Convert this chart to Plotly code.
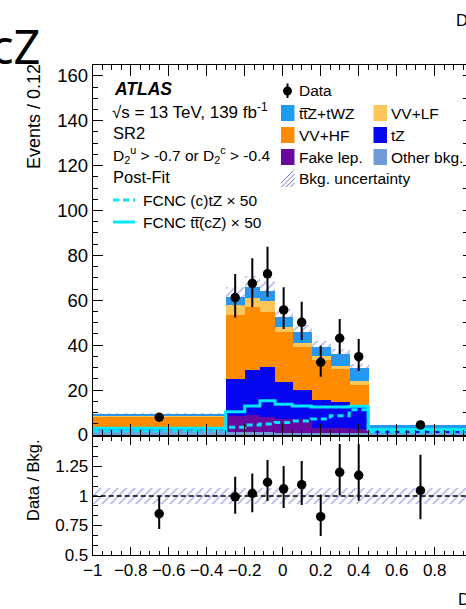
import plotly.graph_objects as go

W, H = 466, 609
FONT = "Liberation Sans, Arial, Helvetica, sans-serif"

# ---- histogram binning (D2 discriminant) ----
bin_edges = [-1.0, -0.3, -0.2, -0.12, -0.04, 0.05, 0.15, 0.25, 0.35, 0.45, 1.0]

# ---- post-fit background components (Events / 0.12), bottom -> top of stack ----
other_bkg = [2.3, 1.2, 1.2, 1.2, 1.1, 1.1, 1.1, 1.1, 1.1, 1.0]
fake_lep = [0.3, 7.4, 7.6, 6.8, 6.1, 5.9, 1.9, 1.8, 1.6, 0.2]
tz_bkg = [0.8, 16.3, 20.2, 22.4, 16.3, 13.0, 12.4, 11.7, 10.6, 0.5]
vv_hf = [4.9, 28.6, 27.9, 24.5, 22.5, 19.0, 18.0, 14.6, 8.9, 1.2]
vv_lf = [0.3, 4.4, 4.0, 4.8, 2.1, 2.0, 1.8, 1.7, 1.9, 0.3]
ttz_twz = [0.7, 3.7, 5.2, 4.6, 4.4, 4.8, 4.1, 5.0, 5.6, 1.1]

# relative background uncertainty per bin
bkg_rel_unc = [0.07, 0.07, 0.07, 0.07, 0.07, 0.07, 0.07, 0.07, 0.07, 0.07]

# ---- data ----
data_vals = [7.9, 61.2, 67.5, 71.8, 55.7, 50.2, 32.4, 43.1, 34.9, 4.5]
data_err_up = [1.4, 10.5, 11.2, 12.1, 10.1, 9.2, 7.4, 8.6, 7.9, 1.3]
data_err_dn = [1.2, 8.9, 10.5, 10.2, 8.5, 7.9, 6.4, 7.0, 6.4, 1.05]

# ---- FCNC signals scaled by 50 ----
sig_tt_cz = [3.0, 10.4, 12.9, 15.3, 13.7, 12.9, 12.5, 12.5, 12.8, 2.5]
sig_c_tz = [1.8, 3.4, 4.5, 4.9, 5.6, 6.2, 7.1, 8.6, 11.3, 1.5]

# ---- axis ticks ----
x_tick_vals = [-1, -0.8, -0.6, -0.4, -0.2, 0, 0.2, 0.4, 0.6, 0.8]
x_tick_text = ["\u22121", "\u22120.8", "\u22120.6", "\u22120.4", "\u22120.2",
               "0", "0.2", "0.4", "0.6", "0.8"]
y_tick_vals = [0, 20, 40, 60, 80, 100, 120, 140, 160]
r_tick_vals = [0.5, 0.75, 1, 1.25]
r_tick_text = ["0.5", "0.75", "1", "1.25"]

COL = {
    "ttz": "#1f9cf2",
    "vvlf": "#fec65a",
    "vvhf": "#ff8c00",
    "tz": "#0505f0",
    "fake": "#680aa0",
    "other": "#6f9bd6",
    "sig": "#00e8ff",
    "hatch": "#7070e0",
}

centers = [(a + b) / 2 for a, b in zip(bin_edges[:-1], bin_edges[1:])]
widths = [b - a for a, b in zip(bin_edges[:-1], bin_edges[1:])]
components = [other_bkg, fake_lep, tz_bkg, vv_hf, vv_lf, ttz_twz]
total = [sum(c[i] for c in components) for i in range(len(centers))]
ratio = [d / t for d, t in zip(data_vals, total)]
ratio_up = [e / t for e, t in zip(data_err_up, total)]
ratio_dn = [e / t for e, t in zip(data_err_dn, total)]


def px(x):
    return x / W


def py(y):
    return 1 - y / H


fig = go.Figure()

stack = [
    ("Other bkg.", other_bkg, COL["other"]),
    ("Fake lep.", fake_lep, COL["fake"]),
    ("tZ", tz_bkg, COL["tz"]),
    ("VV+HF", vv_hf, COL["vvhf"]),
    ("VV+LF", vv_lf, COL["vvlf"]),
    ("tt\u0305Z+tWZ", ttz_twz, COL["ttz"]),
]
for name, vals, col in stack:
    fig.add_trace(go.Bar(
        x=centers, y=vals, width=widths, name=name,
        marker=dict(color=col, line=dict(width=0)),
        xaxis="x", yaxis="y", showlegend=False,
    ))

hatch_marker = dict(
    color="rgba(0,0,0,0)", line=dict(width=0),
    pattern=dict(shape="/", fgcolor=COL["hatch"], bgcolor="rgba(0,0,0,0)",
                 size=6, solidity=0.3, fillmode="overlay"),
)

# background uncertainty band on the stack
fig.add_trace(go.Bar(
    x=centers, width=widths,
    base=[t * (1 - u) for t, u in zip(total, bkg_rel_unc)],
    y=[2 * t * u for t, u in zip(total, bkg_rel_unc)],
    marker=hatch_marker, xaxis="x", yaxis="y", showlegend=False,
))

# signal step lines
fig.add_trace(go.Scatter(
    x=bin_edges, y=sig_tt_cz + [sig_tt_cz[-1]], mode="lines",
    line=dict(color=COL["sig"], width=3, shape="hv"),
    xaxis="x", yaxis="y", showlegend=False,
))
fig.add_trace(go.Scatter(
    x=bin_edges, y=sig_c_tz + [sig_c_tz[-1]], mode="lines",
    line=dict(color=COL["sig"], width=3, shape="hv", dash="6px,4px"),
    xaxis="x", yaxis="y", showlegend=False,
))

# data
fig.add_trace(go.Scatter(
    x=centers, y=data_vals, mode="markers",
    marker=dict(color="black", size=9.5),
    error_y=dict(type="data", symmetric=False, array=data_err_up,
                 arrayminus=data_err_dn, color="black", thickness=2, width=0),
    xaxis="x", yaxis="y", showlegend=False,
))

# ---- ratio panel ----
fig.add_trace(go.Bar(
    x=centers, width=widths,
    base=[1 - u for u in bkg_rel_unc],
    y=[2 * u for u in bkg_rel_unc],
    marker=hatch_marker, xaxis="x2", yaxis="y2", showlegend=False,
))
fig.add_trace(go.Scatter(
    x=[bin_edges[0], bin_edges[-1]], y=[1, 1], mode="lines",
    line=dict(color="black", width=1.3, dash="5px,3px"),
    xaxis="x2", yaxis="y2", showlegend=False,
))
fig.add_trace(go.Scatter(
    x=centers, y=ratio, mode="markers",
    marker=dict(color="black", size=9.5),
    error_y=dict(type="data", symmetric=False, array=ratio_up,
                 arrayminus=ratio_dn, color="black", thickness=2, width=0),
    xaxis="x2", yaxis="y2", showlegend=False, cliponaxis=True,
))

x_dom = [px(92.7), 1.0]
x_max = -1 + (466 - 92.7) / 190.0
y_max = (435 - 65) / 2.245
tickfont = dict(family=FONT, size=17, color="black")

common_x = dict(
    domain=x_dom, range=[-1, x_max], showline=True, linecolor="black",
    linewidth=1, mirror="ticks", ticks="inside", tickcolor="black",
    tickmode="array", tickvals=x_tick_vals, ticktext=x_tick_text,
    showgrid=False, zeroline=False, tickfont=tickfont, automargin=False,
)

fig.update_layout(
    width=W, height=H, margin=dict(l=0, r=0, t=0, b=0, pad=0),
    paper_bgcolor="white", plot_bgcolor="white",
    barmode="stack", bargap=0, showlegend=False,
    font=dict(family=FONT, color="black"),
    xaxis=dict(common_x, anchor="y", showticklabels=False, ticklen=11,
               minor=dict(dtick=0.05, tick0=-1, ticklen=5, ticks="inside",
                          tickcolor="black")),
    yaxis=dict(domain=[py(435), py(65)], range=[0, y_max],
               anchor="x", showline=True, linecolor="black", linewidth=1,
               ticks="inside", ticklen=10, tickcolor="black",
               tickmode="array", tickvals=y_tick_vals, automargin=False,
               minor=dict(tickmode="linear", tick0=0, dtick=5, ticklen=5,
                          ticks="inside", tickcolor="black"),
               showgrid=False, zeroline=False,
               tickfont=dict(family=FONT, size=18.5, color="black")),
    # short tick stubs along the right border of the upper panel
    yaxis3=dict(overlaying="y", anchor="x", side="right", range=[0, y_max],
                tickmode="linear", tick0=0, dtick=10, ticks="inside",
                ticklen=3, tickcolor="black", showticklabels=False,
                showline=False, showgrid=False, zeroline=False,
                automargin=False),
    xaxis2=dict(common_x, anchor="y2", ticklen=8,
                minor=dict(dtick=0.05, tick0=-1, ticklen=4, ticks="inside",
                           tickcolor="black")),
    yaxis2=dict(domain=[py(555), py(437)], range=[0.5, 1.5], anchor="x2",
                showline=True, linecolor="black", linewidth=1,
                ticks="inside", ticklen=9, tickcolor="black",
                tickmode="array", tickvals=r_tick_vals, ticktext=r_tick_text,
                automargin=False,
                minor=dict(tickmode="linear", tick0=0.5, dtick=0.25 / 3,
                           ticklen=5, ticks="inside", tickcolor="black"),
                showgrid=False, zeroline=False, tickfont=tickfont),
)

# invisible trace that registers the right-hand tick axis
fig.add_trace(go.Scatter(x=[bin_edges[0]], y=[0], mode="markers",
                         marker=dict(opacity=0), xaxis="x", yaxis="y3",
                         showlegend=False, hoverinfo="skip"))

ann = []


def text(x, y, s, size, anchor="left", **kw):
    ann.append(dict(x=px(x), y=py(y), xref="paper", yref="paper", text=s,
                    showarrow=False, xanchor=anchor, yanchor="middle",
                    font=dict(family=kw.pop("family", FONT), size=size,
                              color="black"), **kw))


# axis titles
text(34, 117, "Events / 0.12", 18, anchor="center", textangle=-90)
text(33, 480, "Data / Bkg.", 16.5, anchor="center", textangle=-90)
text(456, 599, "D<sub>2</sub><sup>c</sup>", 16.5)
text(454, 20, "D<sub>2</sub><sup>u</sup>", 16.5)
text(42, 46, "cZ", 47, anchor="right", family="Noto Sans")

# labels inside the frame
text(112, 89, "<b><i>ATLAS</i></b>", 17.5)
text(110, 111, "\u221as = 13 TeV, 139 fb<sup>-1</sup>", 17)
text(111, 133, "SR2", 16.5)
text(111, 155, "D<sub>2</sub><sup>u</sup> > -0.7 or D<sub>2</sub><sup>c</sup> > -0.4", 15.5)
text(111, 177, "Post-Fit", 16.5)
text(141, 200, "FCNC (c)tZ \u00d7 50", 15.5)
text(141, 222, "FCNC tt\u0305(cZ) \u00d7 50", 15.5)

# legend entries
text(297, 90, "Data", 15.5)
text(297, 113, "tt\u0305Z+tWZ", 15.5)
text(389, 113, "VV+LF", 15.5)
text(297, 135, "VV+HF", 15.5)
text(389, 135, "tZ", 15.5)
text(297, 157, "Fake lep.", 15.5)
text(389, 157, "Other bkg.", 15.5)
text(297, 179, "Bkg. uncertainty", 15.5)

shapes = []


def box(x0, yc, col):
    shapes.append(dict(type="rect", xref="paper", yref="paper",
                       x0=px(x0), x1=px(x0 + 13.5), y0=py(yc + 8), y1=py(yc - 8),
                       fillcolor=col, line=dict(width=0)))


box(281, 113, COL["ttz"])
box(373.5, 113, COL["vvlf"])
box(281, 135, COL["vvhf"])
box(373.5, 135, COL["tz"])
box(281, 157, COL["fake"])
box(373.5, 157, COL["other"])

# hatched swatch
for k in range(4):
    x0 = 281 + k * 4.5 - 4
    shapes.append(dict(type="line", xref="paper", yref="paper",
                       x0=px(max(x0, 281)), y0=py(187 - (max(x0, 281) - x0)),
                       x1=px(min(x0 + 16, 294.5)), y1=py(171 + (x0 + 16 - min(x0 + 16, 294.5))),
                       line=dict(color=COL["hatch"], width=1)))

# data marker swatch
shapes.append(dict(type="line", xref="paper", yref="paper",
                   x0=px(287.5), x1=px(287.5), y0=py(83.5), y1=py(98),
                   line=dict(color="black", width=2)))
shapes.append(dict(type="circle", xref="paper", yref="paper",
                   x0=px(283), x1=px(292), y0=py(95.5), y1=py(86.5),
                   fillcolor="black", line=dict(width=0)))

# signal line swatches
shapes.append(dict(type="line", xref="paper", yref="paper",
                   x0=px(113), x1=px(135), y0=py(200), y1=py(200),
                   line=dict(color=COL["sig"], width=3, dash="6px,4px")))
shapes.append(dict(type="line", xref="paper", yref="paper",
                   x0=px(113), x1=px(135), y0=py(222), y1=py(222),
                   line=dict(color=COL["sig"], width=3)))

fig.update_layout(annotations=ann, shapes=shapes)

fig.write_html("out.html")
